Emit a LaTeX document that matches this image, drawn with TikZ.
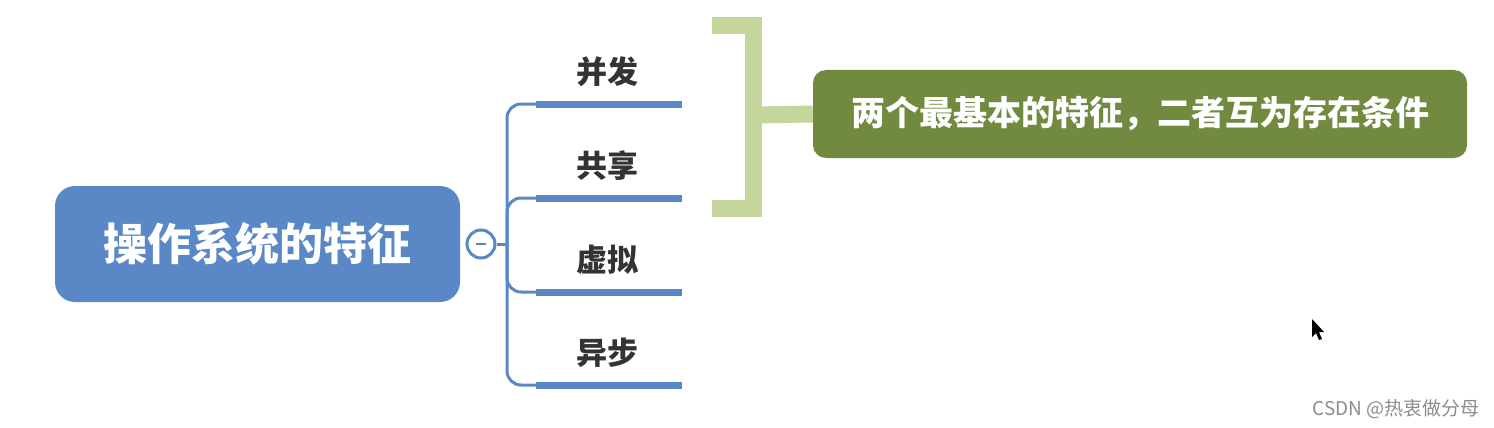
\documentclass[tikz,border=0pt]{standalone}
\usepackage{fontspec}
\setmainfont{Noto Sans CJK SC}
\definecolor{mblue}{HTML}{5A88C6}
\definecolor{lgreen}{HTML}{C5D69D}
\definecolor{dgreen}{HTML}{728A40}
\tikzset{
  rootbox/.style={draw=none,fill=mblue,rounded corners=20pt,minimum width=405pt,minimum height=116pt,text=white,font=\fontsize{44}{50}\selectfont\bfseries,inner sep=0pt},
  notebox/.style={draw=none,fill=dgreen,rounded corners=13pt,minimum width=654pt,minimum height=88pt,text=white,font=\fontsize{34}{40}\selectfont\bfseries,inner sep=0pt},
  lbl/.style={font=\fontsize{31}{36}\selectfont\bfseries,text=black!80,inner sep=0pt},
  barline/.style={draw=mblue,line width=7pt},
  conn/.style={draw=mblue,line width=3pt,rounded corners=14pt},
  brk/.style={draw=lgreen,line width=17pt,line join=miter},
}
\begin{document}
\begin{tikzpicture}[x=1pt,y=-1pt]
\useasboundingbox (0,0) rectangle (1494,428);
\node[rootbox] (root) at (257.5,244) {操作系统的特征};
\node[circle,draw=mblue,line width=3pt,fill=white,minimum size=28pt,inner sep=0pt] (c) at (481,244) {};
\draw[draw=mblue!70!gray,line width=2.2pt] ([xshift=-5pt]c.center) -- ([xshift=5pt]c.center);
\coordinate (j) at (507,244);
\draw[conn] (c.east) -- (j);
\foreach \i/\y/\t in {1/104/并发,2/198/共享,3/292/虚拟,4/385/异步}{
  \coordinate (bL\i) at (536,\y);
  \coordinate (bR\i) at (682,\y);
  \draw[conn] (j) |- (bL\i);
  \draw[barline] (bL\i) -- (bR\i);
  \node[lbl] (t\i) at (607,\y-32) {\t};
}
\coordinate (k1) at (712,26);
\coordinate (k2) at (753.5,26);
\coordinate (k3) at (753.5,208);
\coordinate (k4) at (712,208);
\draw[brk] (k1) -- (k2) -- (k3) -- (k4);
\coordinate (km) at (753.5,115);
\node[notebox] (note) at (1140,114) {两个最基本的特征，二者互为存在条件};
\draw[brk] (km) -- (note.west);
\fill[black] (1312,319) -- (1312,337) -- (1316,333) -- (1319,340) -- (1322,339) -- (1319,332) -- (1324,332) -- cycle;
\node[text=black!45,font=\fontsize{19}{22}\selectfont,anchor=east,inner sep=0pt] (wm) at (1480,409) {CSDN @热衷做分母};
\end{tikzpicture}
\end{document}
